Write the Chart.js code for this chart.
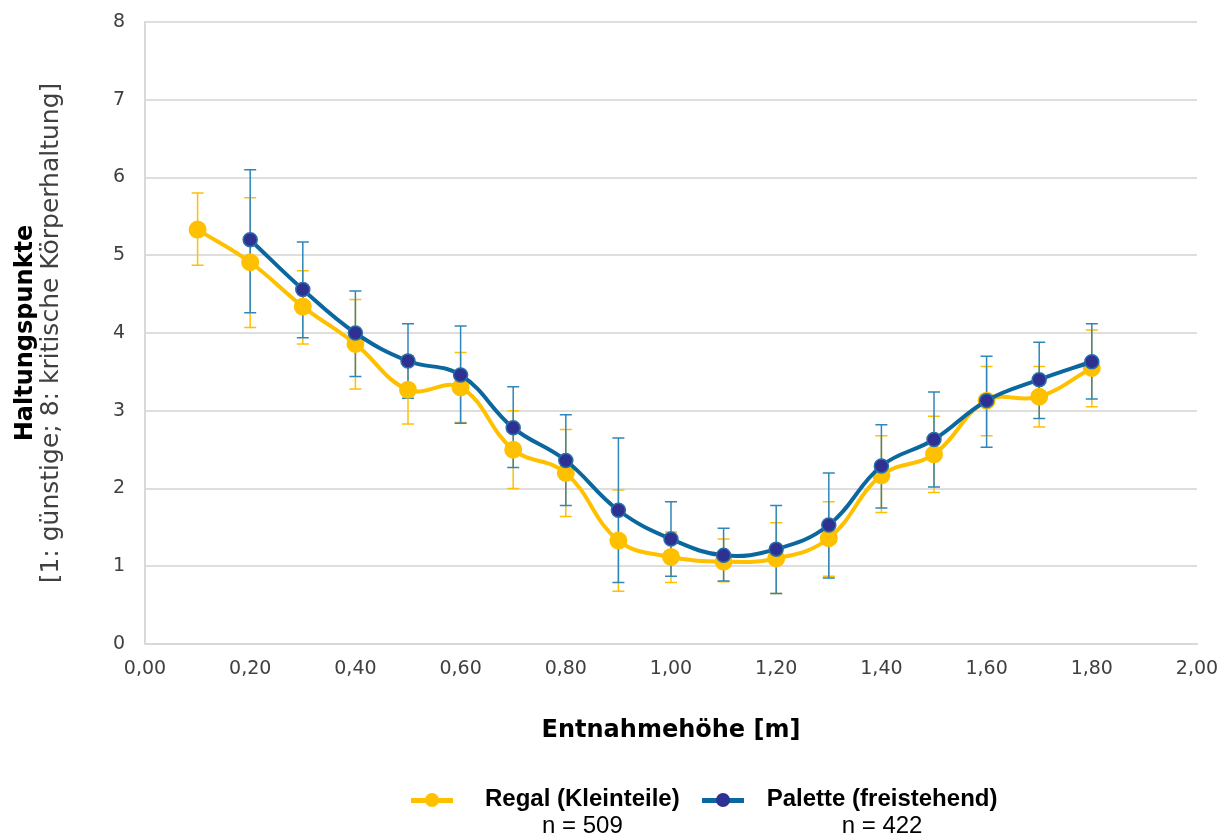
<!DOCTYPE html>
<html lang="de">
<head>
    <meta charset="UTF-8">
    <title>Haltungspunkte nach Entnahmehöhe</title>
    <script src="https://cdn.jsdelivr.net/npm/chart.js"></script>
    <style>
        body { margin: 0; background: #ffffff; }
        #wrap { position: relative; width: 1225px; height: 834px; overflow: hidden; }
        .legend {
            position: absolute; left: 411px; top: 784px; display: flex;
            font-family: "Liberation Sans", Arial, sans-serif; color: #000;
        }
        .item { display: flex; align-items: flex-start; margin-right: 22px; }
        .icon { position: relative; width: 42px; height: 28px; margin-right: 32px; }
        .item + .item .icon { margin-right: 23px; }
        .icon .ln { position: absolute; left: 0; right: 0; top: 14px; height: 5px; }
        .icon .dot { position: absolute; left: 14px; top: 9px; width: 14px; height: 14px; border-radius: 50%; }
        .txt { text-align: center; font-size: 24px; line-height: 27px; }
        .txt b { display: block; }
    </style>
</head>
<body>
<div id="wrap">
    <canvas id="chart" width="1225" height="834"></canvas>
    <div class="legend" id="legend"></div>
</div>
<script>
    // Entnahmehöhe [m]
    const xValues = [0.1, 0.2, 0.3, 0.4, 0.5, 0.6, 0.7, 0.8, 0.9, 1.0, 1.1, 1.2, 1.3, 1.4, 1.5, 1.6, 1.7, 1.8];

    // Regal (Kleinteile), n = 509
    const regalMean = [5.33, 4.91, 4.34, 3.86, 3.27, 3.30, 2.50, 2.20, 1.33, 1.12, 1.06, 1.10, 1.36, 2.17, 2.44, 3.13, 3.18, 3.55];
    const regalLow  = [4.87, 4.07, 3.86, 3.28, 2.83, 2.85, 2.00, 1.64, 0.68, 0.79, 0.80, 0.65, 0.87, 1.69, 1.95, 2.68, 2.79, 3.05];
    const regalHigh = [5.80, 5.74, 4.80, 4.43, 3.71, 3.75, 3.00, 2.76, 1.98, 1.44, 1.35, 1.56, 1.83, 2.68, 2.93, 3.57, 3.57, 4.04];

    // Palette (freistehend), n = 422
    const paletteMean = [null, 5.20, 4.56, 4.00, 3.64, 3.46, 2.78, 2.36, 1.72, 1.35, 1.14, 1.22, 1.53, 2.29, 2.63, 3.13, 3.40, 3.63];
    const paletteLow  = [null, 4.26, 3.94, 3.44, 3.16, 2.84, 2.27, 1.78, 0.79, 0.87, 0.81, 0.65, 0.85, 1.75, 2.02, 2.53, 2.90, 3.15];
    const paletteHigh = [null, 6.10, 5.17, 4.54, 4.12, 4.09, 3.31, 2.95, 2.65, 1.83, 1.49, 1.78, 2.20, 2.82, 3.24, 3.70, 3.88, 4.12];

    const seriesNames = ['Regal (Kleinteile)', 'Palette (freistehend)'];
    const seriesN = ['n = 509', 'n = 422'];
    const xTitle = 'Entnahmehöhe [m]';
    const yTitleLines = ['Haltungspunkte', '[1: günstige; 8: kritische Körperhaltung]'];

    const yellow = '#FFC000';
    const blueLine = '#0A689E';
    const blueDot = '#2E3192';
    const blueBar = '#2F86BA';

    const toPoints = (vals) => xValues.map((x, i) => ({ x: x, y: vals[i] })).filter(p => p.y !== null);

    const bars = [
        { low: regalLow, high: regalHigh, color: yellow },
        { low: paletteLow, high: paletteHigh, color: blueBar }
    ];

    // Fehlerbalken unter den Linien zeichnen
    const errorBars = {
        id: 'errorBars',
        beforeDatasetsDraw(chart) {
            const { ctx, scales: { x, y } } = chart;
            ctx.save();
            ctx.lineWidth = 1.5;
            bars.forEach(b => {
                ctx.strokeStyle = b.color;
                xValues.forEach((v, i) => {
                    if (b.low[i] === null) return;
                    const px = x.getPixelForValue(v);
                    const yl = y.getPixelForValue(b.low[i]);
                    const yh = y.getPixelForValue(b.high[i]);
                    ctx.beginPath();
                    ctx.moveTo(px, yl); ctx.lineTo(px, yh);
                    ctx.moveTo(px - 6, yl); ctx.lineTo(px + 6, yl);
                    ctx.moveTo(px - 6, yh); ctx.lineTo(px + 6, yh);
                    ctx.stroke();
                });
            });
            ctx.restore();
        }
    };

    // Zweizeiliger Y-Titel (fett + normal)
    const yTitle = {
        id: 'yTitle',
        afterDraw(chart) {
            const { ctx, chartArea } = chart;
            const cy = (chartArea.top + chartArea.bottom) / 2;
            ctx.save();
            ctx.translate(0, cy);
            ctx.rotate(-Math.PI / 2);
            ctx.textAlign = 'center';
            ctx.textBaseline = 'middle';
            ctx.fillStyle = '#000000';
            ctx.font = 'bold 24px "DejaVu Sans"';
            ctx.fillText(yTitleLines[0], 0, 26);
            ctx.fillStyle = '#404040';
            ctx.font = '25px "DejaVu Sans"';
            ctx.fillText(yTitleLines[1], 0, 51);
            ctx.restore();
        }
    };

    new Chart(document.getElementById('chart'), {
        type: 'line',
        data: {
            datasets: [{
                label: seriesNames[0],
                data: toPoints(regalMean),
                borderColor: yellow,
                backgroundColor: yellow,
                pointBackgroundColor: yellow,
                pointBorderColor: yellow,
                borderWidth: 4,
                pointRadius: 7,
                tension: 0.4,
                order: 2
            }, {
                label: seriesNames[1],
                data: toPoints(paletteMean),
                borderColor: blueLine,
                backgroundColor: blueDot,
                pointBackgroundColor: blueDot,
                pointBorderColor: '#2A6FA8',
                pointBorderWidth: 1.5,
                borderWidth: 4,
                pointRadius: 7,
                tension: 0.4,
                order: 1
            }]
        },
        options: {
            responsive: false,
            animation: false,
            devicePixelRatio: 1,
            layout: { padding: { top: 22, right: 28, bottom: 74, left: 0 } },
            plugins: { legend: { display: false }, tooltip: { enabled: false } },
            scales: {
                x: {
                    type: 'linear',
                    min: 0, max: 2,
                    afterFit: s => { s.height = 116; },
                    grid: { display: false },
                    border: { display: true, color: '#D9D9D9', width: 2 },
                    ticks: {
                        stepSize: 0.2,
                        padding: 6,
                        color: '#404040',
                        font: { family: 'DejaVu Sans', size: 19 },
                        callback: v => v.toFixed(2).replace('.', ',')
                    },
                    title: {
                        display: true,
                        text: xTitle,
                        color: '#000000',
                        font: { family: 'DejaVu Sans', size: 24, weight: 'bold' },
                        padding: { top: 0, bottom: 15 }
                    }
                },
                y: {
                    min: 0, max: 8,
                    afterFit: s => { s.width = 145; },
                    // unsichtbare Tickstriche als Abstand zu den Beschriftungen
                    grid: { color: '#DEDEDE', lineWidth: 2, drawTicks: true, tickLength: 20, tickColor: 'rgba(0,0,0,0)' },
                    border: { display: true, color: '#D9D9D9', width: 2 },
                    ticks: {
                        stepSize: 1,
                        padding: 0,
                        color: '#404040',
                        font: { family: 'DejaVu Sans', size: 19 }
                    }
                }
            }
        },
        plugins: [errorBars, yTitle]
    });

    // HTML-Legende
    const legendColors = [
        { line: yellow, dot: yellow },
        { line: blueLine, dot: blueDot }
    ];
    const legend = document.getElementById('legend');
    seriesNames.forEach((name, i) => {
        const item = document.createElement('div');
        item.className = 'item';
        item.innerHTML =
            '<div class="icon"><div class="ln" style="background:' + legendColors[i].line + '"></div>' +
            '<div class="dot" style="background:' + legendColors[i].dot + '"></div></div>' +
            '<div class="txt"><b>' + name + '</b>' + seriesN[i] + '</div>';
        legend.appendChild(item);
    });
</script>
</body>
</html>
